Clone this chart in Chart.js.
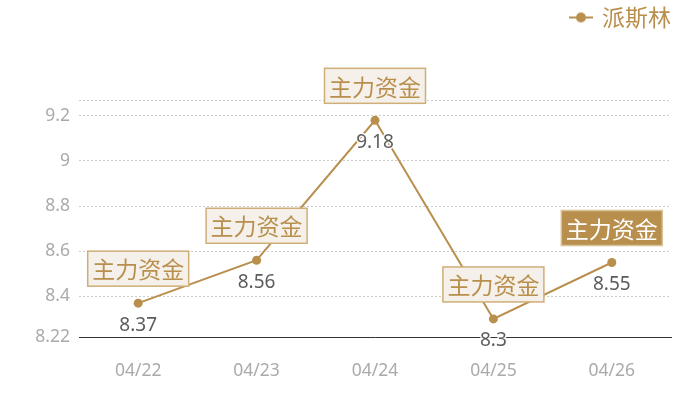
<!DOCTYPE html>
<html>
<head>
<meta charset="utf-8">
<style>
  html, body { margin: 0; padding: 0; background: #fff; }
  #wrap { width: 700px; height: 400px; }
</style>
<script src="https://cdn.jsdelivr.net/npm/chart.js@4"></script>
</head>
<body>
<div id="wrap"><canvas id="chart"></canvas></div>
<script>
const dates = ['04/22', '04/23', '04/24', '04/25', '04/26'];
const prices = [8.37, 8.56, 9.18, 8.3, 8.55];
const seriesName = '派斯林';
const tagText = '主力资金';
const activeTag = 4;
const yTicks = [8.22, 8.4, 8.6, 8.8, 9, 9.2];
const yMin = 8.22;
const yMax = 9.27;

const gold = '#b98f4e';
const cjk = '"Noto Sans CJK SC", "Noto Sans", sans-serif';

// legend icon: short line with a dot
const icon = document.createElement('canvas');
icon.width = 24;
icon.height = 12;
const ic = icon.getContext('2d');
ic.strokeStyle = gold;
ic.lineWidth = 2;
ic.beginPath(); ic.moveTo(0, 6); ic.lineTo(24, 6); ic.stroke();
ic.fillStyle = gold;
ic.beginPath(); ic.arc(12, 6, 5, 0, Math.PI * 2); ic.fill();

const tagPlugin = {
    id: 'tags',
    afterDatasetsDraw(chart) {
        const ctx = chart.ctx;
        const meta = chart.getDatasetMeta(0);
        ctx.save();
        meta.data.forEach((pt, i) => {
            // value under the point
            ctx.font = '19px "Noto Sans", sans-serif';
            ctx.textAlign = 'center';
            ctx.textBaseline = 'middle';
            ctx.lineWidth = 3;
            ctx.strokeStyle = 'rgba(255,255,255,0.9)';
            ctx.strokeText(String(prices[i]), pt.x, pt.y + 22);
            ctx.fillStyle = '#5c5c5c';
            ctx.fillText(String(prices[i]), pt.x, pt.y + 22);

            // tag box above the point
            const w = 101, h = 35;
            const bx = pt.x - w / 2, by = pt.y - 17 - h;
            const on = i === activeTag;
            ctx.fillStyle = on ? gold : '#f5f1ea';
            ctx.fillRect(bx, by, w, h);
            ctx.lineWidth = 1.5;
            ctx.strokeStyle = on ? '#d9c197' : '#cfae78';
            ctx.strokeRect(bx, by, w, h);
            ctx.font = '23px ' + cjk;
            ctx.fillStyle = on ? '#fff' : gold;
            ctx.fillText(tagText, pt.x, by + h / 2 + 1);
        });
        ctx.restore();
    }
};

new Chart(document.getElementById('chart').getContext('2d'), {
    type: 'line',
    data: {
        labels: dates,
        datasets: [{
            label: seriesName,
            data: prices,
            borderColor: gold,
            backgroundColor: gold,
            borderWidth: 2,
            pointRadius: 4.5,
            pointBackgroundColor: gold,
            pointBorderWidth: 0,
            tension: 0
        }]
    },
    options: {
        responsive: true,
        maintainAspectRatio: false,
        animation: false,
        layout: { padding: { top: 6, right: 29, bottom: 18, left: 0 } },
        plugins: {
            legend: {
                position: 'top',
                align: 'end',
                weight: 3000,
                labels: {
                    usePointStyle: true,
                    pointStyle: icon,
                    pointStyleWidth: 19,
                    padding: 0,
                    color: gold,
                    font: { family: cjk, size: 23 }
                }
            },
            title: {
                display: true,
                text: '',
                font: { size: 10 },
                padding: { top: 49, bottom: 0 }
            },
            tooltip: { enabled: false }
        },
        scales: {
            x: {
                offset: true,
                afterFit(scale) { scale.height = 45; },
                grid: { display: false, drawTicks: false },
                border: { display: true, color: '#333', width: 1 },
                ticks: {
                    padding: 24,
                    color: '#aaa',
                    font: { family: '"Noto Sans", sans-serif', size: 17.5 }
                }
            },
            y: {
                min: yMin,
                max: yMax,
                afterFit(scale) { scale.width = 79; },
                afterBuildTicks(scale) {
                    scale.ticks = yTicks.concat([yMax]).map(v => ({ value: v }));
                },
                grid: { color: '#ccc', drawTicks: false },
                border: { display: false, dash: [2, 2] },
                ticks: {
                    padding: 9,
                    color: '#aaa',
                    font: { family: '"Noto Sans", sans-serif', size: 17.5 },
                    callback: v => (yTicks.includes(v) ? String(v) : '')
                }
            }
        }
    },
    plugins: [tagPlugin]
});
</script>
</body>
</html>
